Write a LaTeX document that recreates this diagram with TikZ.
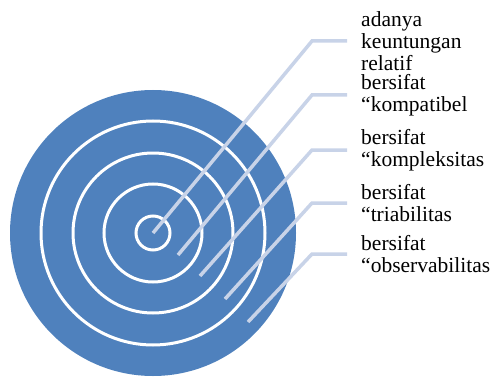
\documentclass[tikz,border=0pt]{standalone}
\usepackage{fontspec}
\setmainfont{Liberation Serif}
\definecolor{discblue}{HTML}{4F81BD}
\definecolor{leaderblue}{HTML}{C8D3E8}
\tikzset{
	ring/.style={draw=white, line width=3pt},
	leader/.style={draw=leaderblue, line width=3.5pt},
	label/.style={anchor=west, align=left, inner xsep=14pt, inner ysep=0pt,
		font=\fontsize{21.5}{22}\selectfont}
}
\begin{document}
\begin{tikzpicture}[x=1pt, y=-1pt]
	\useasboundingbox (0,0) rectangle (492,377);
	\fill[discblue] (153,233) circle (143);
	\foreach \r in {17,49,80,112}
		\draw[ring] (153,233) circle (\r);
	
	\coordinate (s1) at (153,233);
	\coordinate (s2) at (178,255);
	\coordinate (s3) at (200,276);
	\coordinate (s4) at (225,299);
	\coordinate (s5) at (248,322);
	
	\node (relatif) [label] at (347,41) {adanya\\keuntungan\\relatif};
	\node (kompatibel) [label] at (347,95) {bersifat\\“kompatibel};
	\node (kompleks) [label] at (347,150) {bersifat\\“kompleksitas};
	\node (triabil) [label] at (347,203) {bersifat\\“triabilitas};
	\node (observ) [label] at (347,254) {bersifat\\“observabilitas};
	
	\draw[leader] (s1) -- (312,41) -- (relatif.west);
	\draw[leader] (s2) -- (312,95) -- (kompatibel.west);
	\draw[leader] (s3) -- (312,150) -- (kompleks.west);
	\draw[leader] (s4) -- (312,203) -- (triabil.west);
	\draw[leader] (s5) -- (312,254) -- (observ.west);
\end{tikzpicture}
\end{document}
